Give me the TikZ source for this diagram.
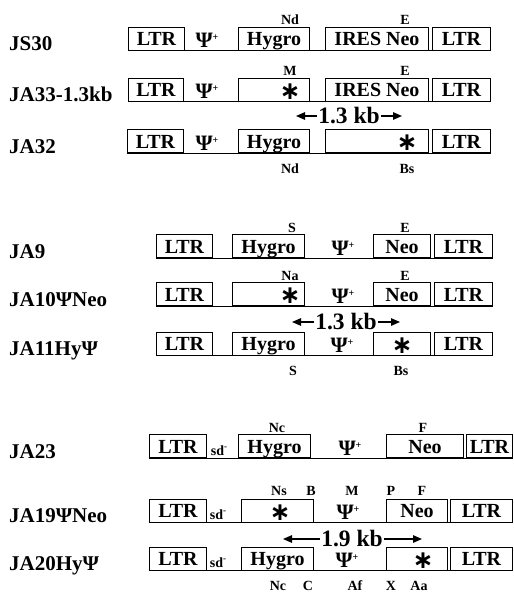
\documentclass[tikz,border=0pt]{standalone}
\usepackage{fontspec}
\setmainfont{Liberation Serif}
\newfontfamily\starfamily{DejaVu Sans}
\usetikzlibrary{arrows.meta}

\newcommand\rowfont{\fontsize{21}{21}\selectfont\bfseries}
\newcommand\boxfont{\fontsize{20}{20}\selectfont\bfseries}
\newcommand\sitefont{\fontsize{14}{14}\selectfont\bfseries}
\newcommand\psifont{\fontsize{22}{22}\selectfont\bfseries}
\newcommand\kbfont{\fontsize{23.5}{23.5}\selectfont\bfseries}
\newcommand\starfont{\starfamily\fontsize{25}{25}\selectfont\bfseries}
\newcommand\psiplus{Ψ\raisebox{0.3em}{\fontsize{10}{10}\selectfont +}}
\newcommand\sdminus{\fontsize{14}{14}\selectfont sd\raisebox{0.4em}{\fontsize{9}{9}\selectfont -}}

\tikzset{
  gene/.style={draw, line width=1pt, inner sep=0pt, anchor=south west,
    minimum height=23pt, text height=14pt, text depth=0pt, font=\boxfont},
  backbone/.style={line width=1pt},
  rowlabel/.style={anchor=base west, inner sep=0pt, font=\rowfont},
  site/.style={anchor=base, inner sep=0pt, font=\sitefont},
  psi/.style={anchor=base, inner sep=0pt, font=\psifont},
  mutstar/.style={anchor=base, inner sep=0pt, font=\starfont},
  kb/.style={anchor=center, inner sep=1pt, font=\kbfont},
  span/.style={line width=1.3pt, -{Triangle[length=9pt,width=7.5pt]}},
}

\begin{document}
\begin{tikzpicture}[x=1pt,y=-1pt]
\useasboundingbox (0,0) rectangle (514,595);

% ---------------- JS30 / JA33 / JA32 ----------------
% JS30
\node[rowlabel] (l1) at (9,50.5) {JS30};
\node[gene, minimum width=56pt] (a1) at (128,50.5) {LTR};
\node[gene, minimum width=71pt] (a2) at (238,50.5) {Hygro};
\node[gene, minimum width=103pt] (a3) at (325,50.5) {IRES Neo};
\node[gene, minimum width=58pt] (a4) at (432,50.5) {LTR};
\draw[backbone] (a1.south west) -- (a4.south east);
\node[psi] (ap) at (207,47.5) {\psiplus};
\node[site] (as1) at (290,24.5) {Nd};
\node[site] (as2) at (405,24.5) {E};

% JA33-1.3kb
\node[rowlabel] (l2) at (9,101.5) {JA33-1.3kb};
\node[gene, minimum width=55pt] (b1) at (128,101.5) {LTR};
\node[gene, minimum width=71pt] (b2) at (238,101.5) {};
\node[gene, minimum width=103pt] (b3) at (325,101.5) {IRES Neo};
\node[gene, minimum width=58pt] (b4) at (432,101.5) {LTR};
\draw[backbone] (b1.south west) -- (b4.south east);
\node[psi] (bp) at (207,98.5) {\psiplus};
\node[mutstar] (bx) at (290,99) {∗};
\node[site] (bs1) at (290,75.5) {M};
\node[site] (bs2) at (405,75.5) {E};

% 1.3 kb span
\node[kb] (k1) at (349,116) {1.3 kb};
\coordinate (k1l) at (296,116);
\coordinate (k1r) at (402,116);
\draw[span] (k1.west) -- (k1l);
\draw[span] (k1.east) -- (k1r);

% JA32
\node[rowlabel] (l3) at (9,153) {JA32};
\node[gene, minimum width=56pt] (c1) at (127,153) {LTR};
\node[gene, minimum width=71pt] (c2) at (238,153) {Hygro};
\node[gene, minimum width=103pt] (c3) at (325,153) {};
\node[gene, minimum width=58pt] (c4) at (432,153) {LTR};
\draw[backbone] (c1.south west) -- (c4.south east);
\node[psi] (cp) at (207,150) {\psiplus};
\node[mutstar] (cx) at (407,150.5) {∗};
\node[site] (cs1) at (290,173) {Nd};
\node[site] (cs2) at (407,173) {Bs};

% ---------------- JA9 / JA10 / JA11 ----------------
% JA9
\node[rowlabel] (l4) at (9,258) {JA9};
\node[gene, minimum width=56pt] (d1) at (156,258) {LTR};
\node[gene, minimum width=72pt] (d2) at (232,258) {Hygro};
\node[gene, minimum width=57pt] (d3) at (373,258) {Neo};
\node[gene, minimum width=58pt] (d4) at (434,258) {LTR};
\draw[backbone] (d1.south west) -- (d4.south east);
\node[psi] (dp) at (343,255) {\psiplus};
\node[site] (ds1) at (292,232) {S};
\node[site] (ds2) at (405,232) {E};

% JA10PsiNeo
\node[rowlabel] (l5) at (9,306) {JA10ΨNeo};
\node[gene, minimum width=56pt] (e1) at (156,306) {LTR};
\node[gene, minimum width=72pt] (e2) at (232,306) {};
\node[gene, minimum width=57pt] (e3) at (373,306) {Neo};
\node[gene, minimum width=58pt] (e4) at (434,306) {LTR};
\draw[backbone] (e1.south west) -- (e4.south east);
\node[psi] (ep) at (343,303) {\psiplus};
\node[mutstar] (ex) at (290,303.5) {∗};
\node[site] (es1) at (290,280) {Na};
\node[site] (es2) at (405,280) {E};

% 1.3 kb span
\node[kb] (k2) at (346,322) {1.3 kb};
\coordinate (k2l) at (292,322);
\coordinate (k2r) at (400,322);
\draw[span] (k2.west) -- (k2l);
\draw[span] (k2.east) -- (k2r);

% JA11HyPsi
\node[rowlabel] (l6) at (9,355.5) {JA11HyΨ};
\node[gene, minimum width=56pt] (f1) at (156,355.5) {LTR};
\node[gene, minimum width=72pt] (f2) at (232,355.5) {Hygro};
\node[gene, minimum width=57pt] (f3) at (373,355.5) {};
\node[gene, minimum width=58pt] (f4) at (434,355.5) {LTR};
\draw[backbone] (f1.south west) -- (f4.south east);
\node[psi] (fp) at (342,352.5) {\psiplus};
\node[mutstar] (fx) at (402,353) {∗};
\node[site] (fs1) at (293,375) {S};
\node[site] (fs2) at (401,375) {Bs};

% ---------------- JA23 / JA19 / JA20 ----------------
% JA23
\node[rowlabel] (l7) at (9,458) {JA23};
\node[gene, minimum width=57pt] (g1) at (149,458) {LTR};
\node[gene, minimum width=72pt] (g2) at (238,458) {Hygro};
\node[gene, minimum width=77pt] (g3) at (386,458) {Neo};
\node[gene, minimum width=46pt] (g4) at (466,458) {LTR};
\draw[backbone] (g1.south west) -- (g4.south east);
\node[psi] (gsd) at (219,455) {\sdminus};
\node[psi] (gp) at (350,455) {\psiplus};
\node[site] (gs1) at (277,432) {Nc};
\node[site] (gs2) at (423,432) {F};

% JA19PsiNeo
\node[rowlabel] (l8) at (9,522.5) {JA19ΨNeo};
\node[gene, minimum width=57pt] (h1) at (149,522.5) {LTR};
\node[gene, minimum width=72pt] (h2) at (241,522.5) {};
\node[gene, minimum width=61pt] (h3) at (386,522.5) {Neo};
\node[gene, minimum width=62pt] (h4) at (450,522.5) {LTR};
\draw[backbone] (h1.south west) -- (h4.south east);
\node[psi] (hsd) at (218,519.5) {\sdminus};
\node[psi] (hp) at (348,519.5) {\psiplus};
\node[mutstar] (hx) at (280,520) {∗};
\node[site] (hs1) at (279,495.5) {Ns};
\node[site] (hs2) at (311,495.5) {B};
\node[site] (hs3) at (352,495.5) {M};
\node[site] (hs4) at (391,495.5) {P};
\node[site] (hs5) at (422,495.5) {F};

% 1.9 kb span
\node[kb] (k3) at (352,539) {1.9 kb};
\coordinate (k3l) at (283,539);
\coordinate (k3r) at (422,539);
\draw[span] (k3.west) -- (k3l);
\draw[span] (k3.east) -- (k3r);

% JA20HyPsi
\node[rowlabel] (l9) at (9,570.5) {JA20HyΨ};
\node[gene, minimum width=57pt] (i1) at (149,570.5) {LTR};
\node[gene, minimum width=72pt] (i2) at (241,570.5) {Hygro};
\node[gene, minimum width=61pt] (i3) at (386,570.5) {};
\node[gene, minimum width=62pt] (i4) at (450,570.5) {LTR};
\draw[backbone] (i1.south west) -- (i4.south east);
\node[psi] (isd) at (218,567.5) {\sdminus};
\node[psi] (ip) at (347,567.5) {\psiplus};
\node[mutstar] (ix) at (423,568) {∗};
\node[site] (is1) at (278,590) {Nc};
\node[site] (is2) at (308,590) {C};
\node[site] (is3) at (355,590) {Af};
\node[site] (is4) at (391,590) {X};
\node[site] (is5) at (419,590) {Aa};
\end{tikzpicture}
\end{document}
